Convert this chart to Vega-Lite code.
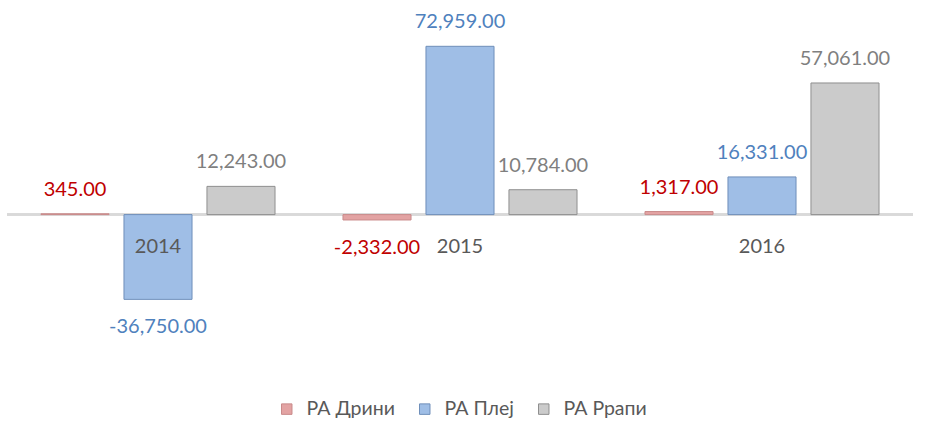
{
  "$schema": "https://vega.github.io/schema/vega-lite/v6.json",
  "width": 906,
  "height": 346,
  "autosize": "none",
  "padding": {"left": 7, "top": 7, "right": 13, "bottom": 70},
  "background": "#ffffff",
  "config": {
    "view": {"stroke": null},
    "font": "Lato",
    "locale": {"number": {"decimal": ".", "thousands": ",", "grouping": [3], "currency": ["$", ""], "minus": "-"}}
  },
  "data": {
    "values": [
      {"year": "2014", "series": "РА Дрини", "v": 345},
      {"year": "2014", "series": "РА Плеј", "v": -36750},
      {"year": "2014", "series": "РА Ррапи", "v": 12243},
      {"year": "2015", "series": "РА Дрини", "v": -2332},
      {"year": "2015", "series": "РА Плеј", "v": 72959},
      {"year": "2015", "series": "РА Ррапи", "v": 10784},
      {"year": "2016", "series": "РА Дрини", "v": 1317},
      {"year": "2016", "series": "РА Плеј", "v": 16331},
      {"year": "2016", "series": "РА Ррапи", "v": 57061}
    ]
  },
  "layer": [
    {
      "mark": {"type": "rule", "color": "#d9d9d9", "strokeWidth": 2},
      "encoding": {"y": {"datum": 0, "type": "quantitative", "scale": {"domain": [-60000, 90000], "nice": false, "zero": false}, "axis": null}}
    },
    {
      "mark": {"type": "bar", "strokeWidth": 1},
      "encoding": {
        "x": {"field": "year", "type": "nominal", "axis": null, "scale": {"paddingInner": 0.225, "paddingOuter": 0.1125}},
        "xOffset": {"field": "series", "type": "nominal", "sort": ["РА Дрини", "РА Плеј", "РА Ррапи"], "scale": {"paddingInner": 0.18, "paddingOuter": 0}},
        "y": {"field": "v", "type": "quantitative", "axis": null},
        "color": {
          "field": "series", "type": "nominal",
          "scale": {"domain": ["РА Дрини", "РА Плеј", "РА Ррапи"], "range": ["#e3a3a3", "#9fbee6", "#cbcbcb"]},
          "legend": {
            "title": null, "orient": "none", "direction": "horizontal", "legendX": 270, "legendY": 392,
            "symbolType": "square", "symbolSize": 110, "symbolStrokeWidth": 1, "labelFontSize": 19.5, "labelColor": "#595959",
            "labelFont": "Lato", "columnPadding": 20, "labelOffset": 10
          }
        },
        "stroke": {
          "field": "series", "type": "nominal",
          "scale": {"domain": ["РА Дрини", "РА Плеј", "РА Ррапи"], "range": ["#c98a8a", "#6f8fba", "#8f8f8f"]},
          "legend": null
        }
      }
    },
    {
      "transform": [{"filter": "datum.v >= 0"}],
      "mark": {"type": "text", "baseline": "middle", "dy": -24, "fontSize": 20, "font": "Lato"},
      "encoding": {
        "x": {"field": "year", "type": "nominal"},
        "xOffset": {"field": "series", "type": "nominal", "sort": ["РА Дрини", "РА Плеј", "РА Ррапи"]},
        "y": {"field": "v", "type": "quantitative"},
        "text": {"field": "v", "type": "quantitative", "format": ",.2f"},
        "fill": {"field": "series", "type": "nominal", "scale": {"domain": ["РА Дрини", "РА Плеј", "РА Ррапи"], "range": ["#c00000", "#4f81bd", "#7f7f7f"]}, "legend": null}
      }
    },
    {
      "transform": [{"filter": "datum.v < 0"}],
      "mark": {"type": "text", "baseline": "middle", "dy": 28, "fontSize": 20, "font": "Lato"},
      "encoding": {
        "x": {"field": "year", "type": "nominal"},
        "xOffset": {"field": "series", "type": "nominal", "sort": ["РА Дрини", "РА Плеј", "РА Ррапи"]},
        "y": {"field": "v", "type": "quantitative"},
        "text": {"field": "v", "type": "quantitative", "format": ",.2f"},
        "fill": {"field": "series", "type": "nominal", "legend": null}
      }
    },
    {
      "transform": [{"filter": "datum.series == 'РА Плеј'"}],
      "mark": {"type": "text", "baseline": "middle", "dy": 32, "fontSize": 20, "font": "Lato", "color": "#595959"},
      "encoding": {
        "x": {"field": "year", "type": "nominal"},
        "y": {"datum": 0, "type": "quantitative"},
        "text": {"field": "year", "type": "nominal"}
      }
    }
  ]
}
